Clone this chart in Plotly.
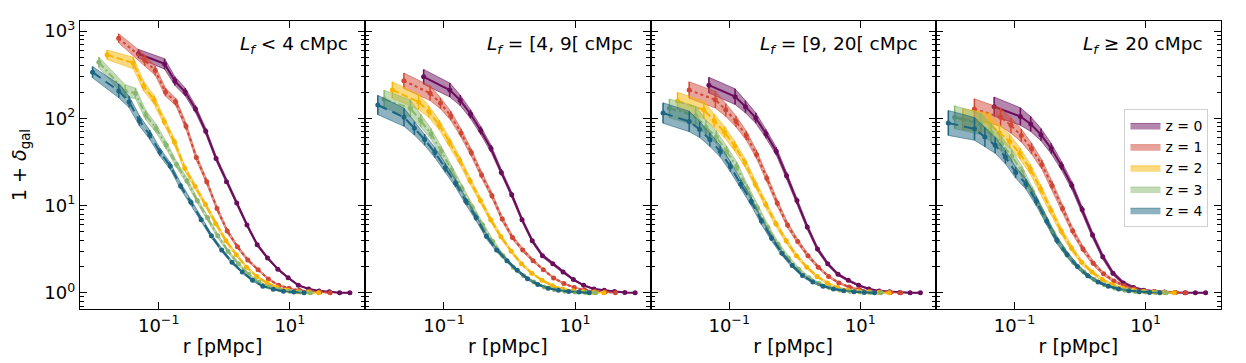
import plotly.graph_objects as go
from plotly.subplots import make_subplots

# separation bins at z = 0 (pMpc); at redshift z they sit at r / (1 + z)
r_z0 = [0.049, 0.123, 0.177, 0.254, 0.364, 0.522, 0.75, 1.08, 1.55, 2.22,
        3.18, 4.57, 6.56, 9.42, 13.5, 19.4, 27.9, 40.0, 57.4, 82.4]
redshifts = [0, 1, 2, 3, 4]
panel_labels = ["<i>L<sub>f</sub></i> < 4 cMpc",
                "<i>L<sub>f</sub></i> = [4, 9[ cMpc",
                "<i>L<sub>f</sub></i> = [9, 20[ cMpc",
                "<i>L<sub>f</sub></i> ≥ 20 cMpc"]

# 1 + delta_gal, one list per redshift (z = 0..4)
delta_lt4 = [
    [550, 420, 267, 200, 128, 71, 34.7, 18.8, 10.7, 6.0, 3.56, 2.51, 1.87, 1.49, 1.22, 1.11, 1.05, 1.03, 1.0, 1.0],
    [826, 461, 352, 200, 154, 81, 35.6, 18.8, 9.25, 5.12, 3.37, 2.38, 1.84, 1.44, 1.22, 1.13, 1.07, 1.04, 1.02, 1.0],
    [535, 430, 234, 163, 92, 53.5, 26.7, 16.5, 10.3, 6.2, 3.95, 2.74, 1.97, 1.54, 1.30, 1.15, 1.07, 1.03, 1.02, 1.0],
    [438, 206, 194, 109, 77, 49, 29.5, 19.2, 11.4, 7.25, 4.5, 3.0, 2.15, 1.63, 1.33, 1.17, 1.09, 1.04, 1.02, 1.0],
    [338, 206, 154, 94, 65, 41, 28.4, 16.8, 10.9, 6.9, 4.5, 3.1, 2.24, 1.73, 1.39, 1.19, 1.1, 1.04, 1.02, 1.0],
]
delta_4_9 = [
    [299, 211, 161, 112, 72.5, 45, 24, 13.3, 6.9, 3.95, 2.67, 2.15, 1.73, 1.42, 1.22, 1.11, 1.07, 1.035, 1.01, 1.0],
    [269, 194, 149, 107, 68, 40.5, 22.4, 13.0, 7.0, 4.3, 3.1, 2.34, 1.84, 1.48, 1.28, 1.15, 1.08, 1.045, 1.02, 1.0],
    [211, 154, 119, 84, 53.5, 33, 19.2, 11.4, 6.9, 4.4, 3.0, 2.15, 1.68, 1.39, 1.21, 1.11, 1.06, 1.035, 1.01, 1.0],
    [166, 130, 94, 66.5, 42, 25.6, 15.8, 9.6, 6.0, 3.88, 2.67, 1.97, 1.57, 1.33, 1.17, 1.09, 1.045, 1.02, 1.01, 1.0],
    [142, 103, 77, 57, 40.5, 27.2, 18.1, 11.2, 7.25, 4.46, 3.1, 2.34, 1.81, 1.45, 1.25, 1.13, 1.07, 1.035, 1.02, 1.0],
]
delta_9_20 = [
    [240, 177, 136, 101, 66.5, 42, 22, 11.4, 5.7, 3.18, 2.15, 1.63, 1.39, 1.22, 1.11, 1.05, 1.03, 1.01, 1.0, 1.0],
    [211, 163, 125, 92, 63.6, 38.5, 20.6, 10.7, 6.0, 3.88, 2.67, 1.97, 1.54, 1.30, 1.17, 1.09, 1.045, 1.03, 1.01, 1.0],
    [158, 125, 94, 69.5, 48, 31, 17.6, 10.3, 6.2, 3.95, 2.67, 1.97, 1.54, 1.30, 1.15, 1.08, 1.045, 1.02, 1.01, 1.0],
    [130, 107, 79, 61, 42, 27.9, 15.8, 9.4, 5.6, 3.6, 2.51, 1.87, 1.49, 1.28, 1.15, 1.08, 1.045, 1.02, 1.01, 1.0],
    [115, 92, 74.5, 57, 42, 27.9, 17.6, 11.2, 6.65, 4.23, 2.84, 2.06, 1.58, 1.33, 1.19, 1.11, 1.06, 1.03, 1.01, 1.0],
]
delta_ge20 = [
    [136, 105, 86, 65, 45, 28.6, 17, 9.0, 4.6, 2.6, 1.68, 1.30, 1.15, 1.07, 1.035, 1.02, 1.01, 1.0, 1.0, 1.0],
    [128, 103, 83, 63.6, 45, 29.6, 17, 9.25, 5.1, 3.18, 2.19, 1.65, 1.37, 1.21, 1.11, 1.05, 1.03, 1.01, 1.01, 1.0],
    [98, 88.5, 68, 54.4, 39.5, 26.2, 15.6, 8.8, 5.1, 3.26, 2.24, 1.73, 1.42, 1.24, 1.13, 1.07, 1.035, 1.02, 1.01, 1.0],
    [103, 86, 68, 51, 37, 24.5, 14.5, 8.26, 4.9, 3.18, 2.24, 1.73, 1.42, 1.24, 1.14, 1.07, 1.035, 1.02, 1.01, 1.0],
    [88.5, 75.7, 61, 49, 36, 24, 17.6, 11.2, 6.65, 4.0, 2.74, 2.0, 1.57, 1.33, 1.19, 1.11, 1.06, 1.03, 1.01, 1.0],
]

# half width of the shaded band in dex, per panel, and a per-redshift widening
err_lt4 = [0.05, 0.06, 0.05, 0.045, 0.04, 0.035, 0.03, 0.027, 0.024, 0.021,
           0.018, 0.015, 0.012, 0.01, 0.008, 0.006, 0.004, 0.003, 0.002, 0.002]
err_4_9 = [0.085, 0.08, 0.06, 0.05, 0.045, 0.04, 0.035, 0.03, 0.026, 0.022,
           0.018, 0.015, 0.012, 0.01, 0.008, 0.006, 0.004, 0.003, 0.002, 0.002]
err_9_20 = [0.09, 0.09, 0.07, 0.06, 0.05, 0.045, 0.04, 0.035, 0.03, 0.025,
            0.02, 0.016, 0.012, 0.01, 0.008, 0.006, 0.004, 0.003, 0.002, 0.002]
err_ge20 = [0.11, 0.1, 0.085, 0.07, 0.06, 0.05, 0.045, 0.04, 0.035, 0.03,
            0.024, 0.018, 0.014, 0.011, 0.008, 0.006, 0.004, 0.003, 0.002, 0.002]
err_z_scale = [1.0, 1.05, 1.1, 1.2, 1.3]

panels = [delta_lt4, delta_4_9, delta_9_20, delta_ge20]
errors = [err_lt4, err_4_9, err_9_20, err_ge20]

colors = [(106, 13, 91), (209, 71, 53), (247, 181, 0), (137, 183, 111), (29, 101, 128)]
dashes = ["solid", "dot", "7px,3px", "7px,3px,2px,3px", "10px,6px"]

FONT = "DejaVu Sans"


def rgba(c, a):
    return "rgba(%d,%d,%d,%s)" % (c[0], c[1], c[2], a)


fig = make_subplots(rows=1, cols=4, shared_yaxes=True, horizontal_spacing=0)

for p, (data, err) in enumerate(zip(panels, errors)):
    col = p + 1
    for k, z in enumerate(redshifts):
        r = [v / (1 + z) for v in r_z0]
        y = data[k]
        e = [v * err_z_scale[k] for v in err]
        hi = [yy * 10 ** ee for yy, ee in zip(y, e)]
        lo = [yy * 10 ** -ee for yy, ee in zip(y, e)]
        c = colors[k]
        fig.add_trace(go.Scatter(
            x=r + r[::-1], y=hi + lo[::-1], mode="lines", fill="toself",
            fillcolor=rgba(c, 0.5), line=dict(color=rgba(c, 0.55), width=1),
            name="z = %d" % z, legendgroup="z%d" % z, showlegend=(p == 3),
            hoverinfo="skip"), row=1, col=col)
        fig.add_trace(go.Scatter(
            x=r, y=y, mode="lines+markers",
            line=dict(color=rgba(c, 1), width=2, dash=dashes[k]),
            marker=dict(color=rgba(c, 1), size=5),
            error_y=dict(type="data", symmetric=False,
                         array=[h - yy for h, yy in zip(hi, y)],
                         arrayminus=[yy - l for l, yy in zip(lo, y)],
                         color=rgba(c, 1), thickness=1.5, width=0),
            showlegend=False, legendgroup="z%d" % z), row=1, col=col)

    xa = "x" if col == 1 else "x%d" % col
    ya = "y" if col == 1 else "y%d" % col
    fig.add_shape(type="line", xref=xa + " domain", x0=0, x1=1, yref=ya, y0=0, y1=0,
                  line=dict(color="#707070", width=1.5), layer="below")
    fig.add_annotation(text=panel_labels[p], xref=xa + " domain", yref=ya + " domain",
                       x=0.945, y=0.965, xanchor="right", yanchor="top", showarrow=False,
                       font=dict(family=FONT, size=18.5, color="black"))

minor_y = [m * 10 ** d for d in range(-1, 4) for m in range(2, 10)]

fig.update_xaxes(type="log", range=[-2.2, 2.15], tickvals=[0.1, 10],
                 ticktext=["10<sup>−1</sup>", "10<sup>1</sup>"],
                 ticks="inside", ticklen=7, tickwidth=1.2, tickcolor="black",
                 showline=True, linecolor="black", linewidth=1.3, mirror="allticks",
                 showgrid=False, zeroline=False,
                 tickfont=dict(family=FONT, size=18, color="black"),
                 title=dict(text="r [pMpc]", font=dict(family=FONT, size=19, color="black"),
                            standoff=4))
fig.update_yaxes(type="log", range=[-0.185, 3.115], tickvals=[1, 10, 100, 1000],
                 ticktext=["10<sup>0</sup>", "10<sup>1</sup>", "10<sup>2</sup>", "10<sup>3</sup>"],
                 ticks="inside", ticklen=7, tickwidth=1.2, tickcolor="black",
                 minor=dict(tickvals=minor_y, ticks="inside", ticklen=4, tickwidth=1,
                            tickcolor="black"),
                 showline=True, linecolor="black", linewidth=1.3, mirror="allticks",
                 showgrid=False, zeroline=False,
                 tickfont=dict(family=FONT, size=18, color="black"))
fig.update_yaxes(title=dict(text="1 + <i>δ</i><sub>gal</sub>",
                            font=dict(family=FONT, size=19, color="black"), standoff=13),
                 row=1, col=1)

# the page body adds an 8px margin, so the figure is 8px smaller on each axis
fig.update_layout(
    width=1238, height=355,
    margin=dict(l=67, r=25, t=10, b=54),
    paper_bgcolor="white", plot_bgcolor="white",
    font=dict(family=FONT, color="black"),
    showlegend=True,
    legend=dict(x=0.9154, y=0.695, xanchor="left", yanchor="top",
                bgcolor="rgba(255,255,255,0.85)", bordercolor="#d0d0d0", borderwidth=1,
                font=dict(family=FONT, size=14, color="black"),
                tracegroupgap=0, itemwidth=30),
)

fig.write_html("out.html")
